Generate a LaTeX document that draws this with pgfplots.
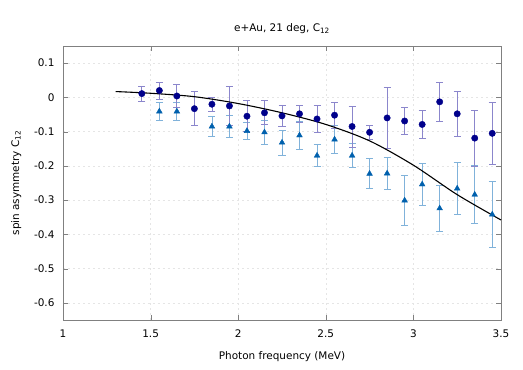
\documentclass[border=0pt]{standalone}
\usepackage{fontspec}
\setmainfont{DejaVu Sans}
\usepackage{pgfplots}
\pgfplotsset{compat=1.18}
\definecolor{dotblue}{HTML}{00008B}
\definecolor{dotbar}{HTML}{8B86CC}
\definecolor{triblue}{HTML}{0060AD}
\definecolor{tribar}{HTML}{80B2DA}
\definecolor{frame}{HTML}{808080}

\begin{document}
\begin{tikzpicture}
\begin{axis}[
  scale only axis, width=438bp, height=274bp,
  xmin=1, xmax=3.5, ymin=-0.65, ymax=0.15,
  xtick={1,1.5,2,2.5,3,3.5}, xticklabels={1,1.5,2,2.5,3,3.5},
  ytick={-0.6,-0.5,-0.4,-0.3,-0.2,-0.1,0,0.1},
  yticklabels={-0.6,-0.5,-0.4,-0.3,-0.2,-0.1,0,0.1},
  tick align=inside, major tick length=5bp,
  tick style={frame}, axis line style={frame},
  grid=major, grid style={dash pattern=on 2pt off 3pt, gray!20},
  ticklabel style={font=\fontsize{10.5}{12}\selectfont},
  xticklabel style={yshift=-6bp}, yticklabel style={xshift=-5bp},
  label style={font=\fontsize{10.5}{12}\selectfont},
  xlabel={Photon frequency (MeV)},
  ylabel={spin asymmetry C\textsubscript{12}},
  xlabel style={yshift=-7bp}, ylabel style={yshift=6bp},
  title={e+Au, 21 deg, C\textsubscript{12}},
  title style={font=\fontsize{10.5}{12}\selectfont, yshift=3bp},
  clip=false,
]
% triangles
\addplot[only marks, mark=triangle*, mark size=3.3bp, color=triblue,
  error bars/.cd, y dir=both, y explicit,
  error bar style={tribar, line width=0.8pt},
  error mark options={tribar, mark size=3.5bp, line width=0.8pt, rotate=90}]
  coordinates {
  (1.55,-0.041) +- (0,0.025)
  (1.65,-0.041) +- (0,0.025)
  (1.85,-0.085) +- (0,0.030)
  (1.95,-0.085) +- (0,0.032)
  (2.05,-0.098) +- (0,0.026)
  (2.15,-0.102) +- (0,0.034)
  (2.25,-0.132) +- (0,0.036)
  (2.35,-0.111) +- (0,0.040)
  (2.45,-0.170) +- (0,0.032)
  (2.55,-0.123) +- (0,0.040)
  (2.65,-0.170) +- (0,0.035)
  (2.75,-0.223) +- (0,0.044)
  (2.85,-0.222) +- (0,0.046)
  (2.95,-0.301) +- (0,0.072)
  (3.05,-0.254) +- (0,0.061)
  (3.15,-0.324) +- (0,0.066)
  (3.25,-0.266) +- (0,0.076)
  (3.35,-0.284) +- (0,0.084)
  (3.45,-0.342) +- (0,0.096)
  };
% circles
\addplot[only marks, mark=*, mark size=3.2bp, color=dotblue,
  error bars/.cd, y dir=both, y explicit,
  error bar style={dotbar, line width=0.8pt},
  error mark options={dotbar, mark size=3.5bp, line width=0.8pt, rotate=90}]
  coordinates {
  (1.45, 0.011) +- (0,0.022)
  (1.55, 0.020) +- (0,0.025)
  (1.65, 0.004) +- (0,0.034)
  (1.75,-0.033) +- (0,0.049)
  (1.85,-0.020) +- (0,0.020)
  (1.95,-0.025) +- (0,0.057)
  (2.05,-0.055) +- (0,0.045)
  (2.15,-0.045) +- (0,0.035)
  (2.25,-0.054) +- (0,0.030)
  (2.35,-0.048) +- (0,0.024)
  (2.45,-0.063) +- (0,0.040)
  (2.55,-0.052) +- (0,0.038)
  (2.65,-0.085) +- (0,0.060)
  (2.75,-0.102) +- (0,0.020)
  (2.85,-0.060) +- (0,0.090)
  (2.95,-0.069) +- (0,0.040)
  (3.05,-0.079) +- (0,0.040)
  (3.15,-0.013) +- (0,0.057)
  (3.25,-0.048) +- (0,0.065)
  (3.35,-0.119) +- (0,0.082)
  (3.45,-0.105) +- (0,0.090)
  };
% theory curve
\addplot[black, line width=1.1pt, smooth, mark=none] coordinates {
  (1.3,0.017) (1.5,0.012) (1.75,0.002) (2.0,-0.018) (2.25,-0.045)
  (2.5,-0.079) (2.75,-0.127) (3.0,-0.198) (3.25,-0.284) (3.5,-0.358)
};
\end{axis}
\path ([xshift=-63bp,yshift=-50bp]current axis.south west) rectangle
      ([xshift=22bp,yshift=46bp]current axis.north east);
\end{tikzpicture}
\end{document}
